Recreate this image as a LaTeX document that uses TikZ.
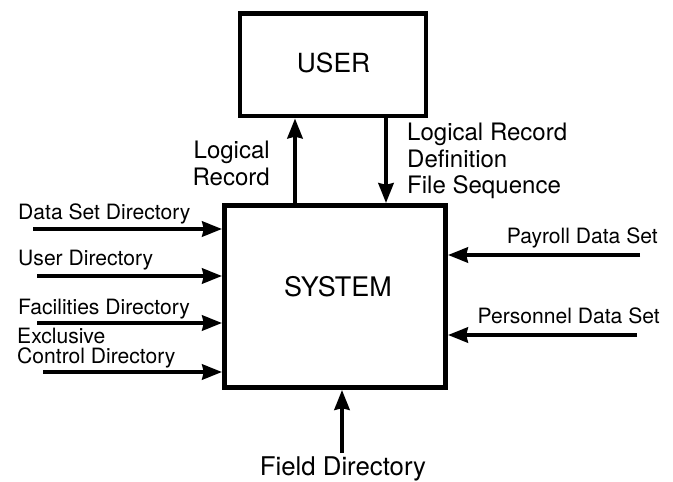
\documentclass[tikz,border=0pt]{standalone}
\usepackage{fontspec}
\setmainfont{TeX Gyre Heros}
\usetikzlibrary{arrows.meta}

\tikzset{
  box/.style={draw, line width=4.2pt, inner sep=0pt},
  boxtxt/.style={inner sep=0pt, font=\fontsize{23}{25}\selectfont},
  flow/.style={line width=3.3pt, -{Stealth[inset=1.5pt,length=17pt,width=13pt]}},
  lbl/.style={inner sep=0pt, font=\fontsize{18}{17}\selectfont},
  toplbl/.style={inner sep=0pt, font=\fontsize{20.5}{23}\selectfont},
}

\begin{document}
\begin{tikzpicture}[x=0.03cm, y=-0.03cm]
  %%%%% START %%%%%
  \useasboundingbox (0,0) rectangle (673,482);

  % the two boxes
  \node[box, minimum width=5.58cm, minimum height=3.075cm] (user) at (333,64.75) {};
  \node[boxtxt, font=\fontsize{22.5}{25}\selectfont] (usertxt) at (333.5,62.5) {USER};
  \node[box, minimum width=6.63cm, minimum height=5.46cm] (sys) at (335,296.5) {};
  \node[boxtxt] (systxt) at (338,287) {SYSTEM};

  % user <-> system
  \coordinate (up) at (295,0);
  \coordinate (down) at (386,0);
  \draw[flow] (up |- sys.north) -- (up |- user.south);
  \draw[flow] (down |- user.south) -- (down |- sys.north);
  \node[toplbl, anchor=base east, align=right] (lrec) at (270,185) {Logical\\Record};
  \node[toplbl, anchor=base west, align=left] (lrdef) at (407,194) {Logical Record\\Definition\\File Sequence};

  % directories on the left
  \coordinate (d1) at (33,229);
  \coordinate (d2) at (37,276);
  \coordinate (d3) at (37,323);
  \coordinate (d4) at (43,372);
  \foreach \d in {d1,d2,d3,d4}
    \draw[flow] (\d) -- (\d -| sys.west);
  \node[lbl, anchor=base west] (dsd) at (18,219) {Data Set Directory};
  \node[lbl, anchor=base west] (usd) at (18,265) {User Directory};
  \node[lbl, anchor=base west] (fcd) at (18,314) {Facilities Directory};
  \node[lbl, anchor=base west, align=left] (ecd) at (17,363) {Exclusive\\Control Directory};

  % data sets on the right
  \coordinate (s1) at (640,255);
  \coordinate (s2) at (637,335);
  \draw[flow] (s1) -- (s1 -| sys.east);
  \draw[flow] (s2) -- (s2 -| sys.east);
  \node[lbl, anchor=base east] (pay) at (658,243) {Payroll Data Set};
  \node[lbl, anchor=base east] (pers) at (660,323) {Personnel Data Set};

  % field directory below
  \coordinate (fd) at (342,453);
  \draw[flow] (fd) -- (fd |- sys.south);
  \node[boxtxt, font=\fontsize{22}{24}\selectfont, anchor=base] (fld) at (343,475) {Field Directory};
  %%%%% END %%%%%
\end{tikzpicture}
\end{document}
